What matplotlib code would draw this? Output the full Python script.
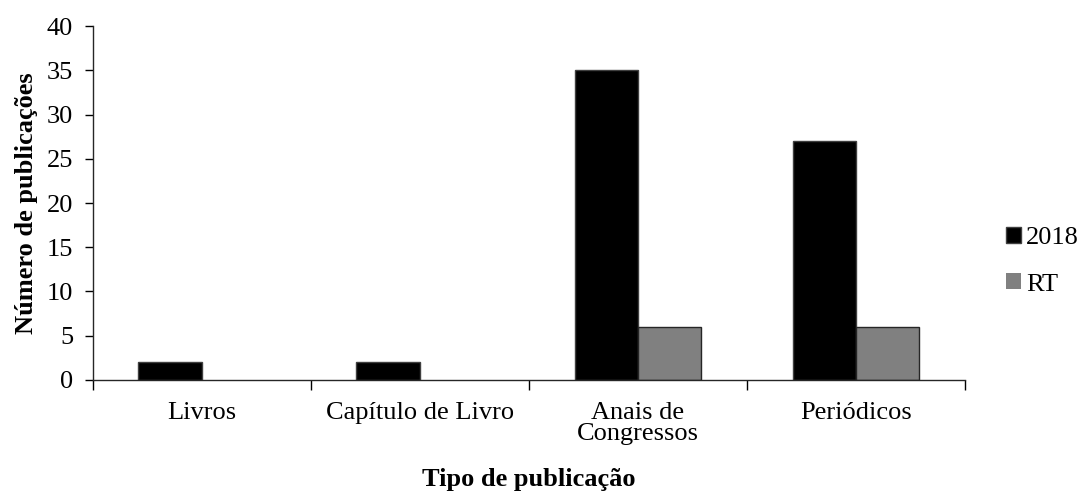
import matplotlib
matplotlib.use("Agg")
import matplotlib.pyplot as plt
import numpy as np

categories = ["Livros", "Capítulo de Livro", "Anais de\nCongressos", "Periódicos"]
series_names = ["2018", "RT"]
values_2018 = [2, 2, 35, 27]
values_rt = [0, 0, 6, 6]
yticks = [0, 5, 10, 15, 20, 25, 30, 35, 40]

plt.rcParams["font.family"] = ["Liberation Serif", "DejaVu Serif"]
FS = 19

fig = plt.figure(figsize=(10.81, 4.91), dpi=100)
ax = fig.add_axes([0.0856, 0.2261, 0.8071, 0.7209])

x = np.arange(len(categories))
w = 0.29
b1 = ax.bar(x - w / 2, values_2018, w, color="black", edgecolor="#404040", linewidth=1, label=series_names[0])
b2 = ax.bar(x + w / 2, values_rt, w, color="#808080", edgecolor="#262626", linewidth=1, label=series_names[1])
for r in b2:
    if r.get_height() == 0:
        r.set_linewidth(0)

ax.set_xlim(-0.5, len(categories) - 0.5)
ax.set_ylim(0, 40)
ax.set_yticks(yticks)
ax.tick_params(axis="y", direction="out", length=6, width=1, pad=8, labelsize=FS)

ax.set_xticks(np.arange(-0.5, len(categories), 1.0))
ax.set_xticklabels([])
ax.tick_params(axis="x", which="major", direction="out", length=7, width=1)
ax.set_xticks(x, minor=True)
ax.set_xticklabels(categories, minor=True, fontsize=FS, linespacing=0.95)
ax.tick_params(axis="x", which="minor", length=0, pad=16)

for s in ["top", "right"]:
    ax.spines[s].set_visible(False)
for s in ["left", "bottom"]:
    ax.spines[s].set_color("#262626")
    ax.spines[s].set_linewidth(1)

ax.set_ylabel("Número de publicações", fontsize=FS, fontweight="bold", labelpad=6)
fig.text(0.489, 0.001, "Tipo de publicação", ha="center", va="bottom", fontsize=FS, fontweight="bold")

fig.legend(handles=[b1, b2], loc="center left", bbox_to_anchor=(0.931, 0.468),
           frameon=False, fontsize=FS, handlelength=0.57, handleheight=0.57,
           handletextpad=0.17, labelspacing=0.9, borderaxespad=0, borderpad=0)

fig.savefig("out.png", dpi=100)
